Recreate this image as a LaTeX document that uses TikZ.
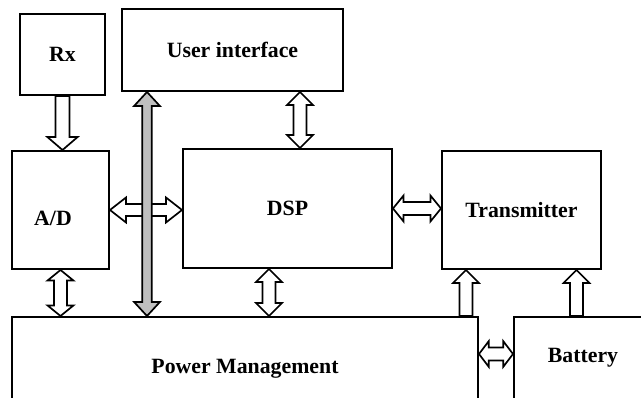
\documentclass[tikz,border=0pt]{standalone}
\usepackage{fontspec}
\setmainfont{Liberation Serif}
\usetikzlibrary{calc,fit}

% arrow sizes
\newcommand{\arrhl}{9.2pt}
\newcommand{\arrhw}{9.2pt}
\newcommand{\arrsw}{4.6pt}

% hollow double arrow from #2 to #3
\newcommand{\dblarrow}[3][white]{%
  \filldraw[arr,fill=#1] (#2)
    -- ($(#2)!\arrhl!(#3)!\arrhw!90:(#3)$)
    -- ($(#2)!\arrhl!(#3)!\arrsw!90:(#3)$)
    -- ($(#3)!\arrhl!(#2)!\arrsw!-90:(#2)$)
    -- ($(#3)!\arrhl!(#2)!\arrhw!-90:(#2)$)
    -- (#3)
    -- ($(#3)!\arrhl!(#2)!\arrhw!90:(#2)$)
    -- ($(#3)!\arrhl!(#2)!\arrsw!90:(#2)$)
    -- ($(#2)!\arrhl!(#3)!\arrsw!-90:(#3)$)
    -- ($(#2)!\arrhl!(#3)!\arrhw!-90:(#3)$)
    -- cycle;}

% hollow single arrow, tip at #3
\newcommand{\sglarrow}[3][white]{%
  \filldraw[arr,fill=#1] ($(#2)!\arrsw!90:(#3)$)
    -- ($(#3)!\arrhl!(#2)!\arrsw!-90:(#2)$)
    -- ($(#3)!\arrhl!(#2)!\arrhw!-90:(#2)$)
    -- (#3)
    -- ($(#3)!\arrhl!(#2)!\arrhw!90:(#2)$)
    -- ($(#3)!\arrhl!(#2)!\arrsw!90:(#2)$)
    -- ($(#2)!\arrsw!-90:(#3)$)
    -- cycle;}

\tikzset{
  blk/.style={draw,line width=1.4pt,inner sep=0pt},
  lbl/.style={font=\bfseries\fontsize{15.5}{18}\selectfont,yshift=-2pt},
  inlbl/.style={lbl,yshift=2pt},
  arr/.style={line width=1.2pt,line join=miter}
}

\begin{document}
\begin{tikzpicture}[x=0.025cm,y=-0.025cm]
\clip (0,0) rectangle (641,398);

% blocks
\node[blk,fit={(20,14) (105,95)},label={[inlbl,name=rxtxt]center:Rx}] (rx) {};
\node[blk,fit={(122,9) (343,91)},label={[inlbl,name=uitxt]center:User interface}] (ui) {};
\node[blk,fit={(12,151) (109,269)}] (ad) {};
\node[lbl] (adtxt) at (53,216) {A/D};
\node[blk,fit={(183,149) (392,268)},label={[inlbl,name=dsptxt]center:DSP}] (dsp) {};
\node[blk,fit={(442,151) (601,269)},label={[inlbl,name=txtxt]center:Transmitter}] (tx) {};
\node[blk,fit={(12,317) (478,420)}] (pm) {};
\node[lbl] (pmtxt) at (245,366) {Power Management};
\node[blk,fit={(514,317) (660,420)}] (bat) {};
\node[lbl] (battxt) at (583,355) {Battery};

% helper positions
\coordinate (xbus) at (147,0);
\coordinate (xui) at (300,0);
\coordinate (xdp) at (269,0);
\coordinate (xpt) at (466,0);
\coordinate (xbt) at (576.5,0);
\coordinate (ybat) at (0,354);

% links
{\renewcommand{\arrhw}{10.7pt}\renewcommand{\arrsw}{5pt}
 \sglarrow{rx.south}{rx.south |- ad.north}}
\dblarrow{ui.south -| xui}{dsp.north -| xui}
{\renewcommand{\arrhl}{11.4pt}\renewcommand{\arrhw}{8.9pt}\renewcommand{\arrsw}{4.3pt}
 \dblarrow{ad.east}{ad.east -| dsp.west}}
{\renewcommand{\arrhl}{7.5pt}
 \dblarrow{dsp.east}{dsp.east -| tx.west}
 \dblarrow{ad.south}{ad.south |- pm.north}}
\dblarrow{dsp.south -| xdp}{pm.north -| xdp}
\sglarrow{pm.north -| xpt}{tx.south -| xpt}
\sglarrow{bat.north -| xbt}{tx.south -| xbt}
{\renewcommand{\arrhl}{7pt}
 \dblarrow{ybat -| pm.east}{ybat -| bat.west}}
{\renewcommand{\arrhl}{10pt}\renewcommand{\arrsw}{3.4pt}
 \dblarrow[black!25]{ui.south -| xbus}{pm.north -| xbus}}
\end{tikzpicture}
\end{document}
